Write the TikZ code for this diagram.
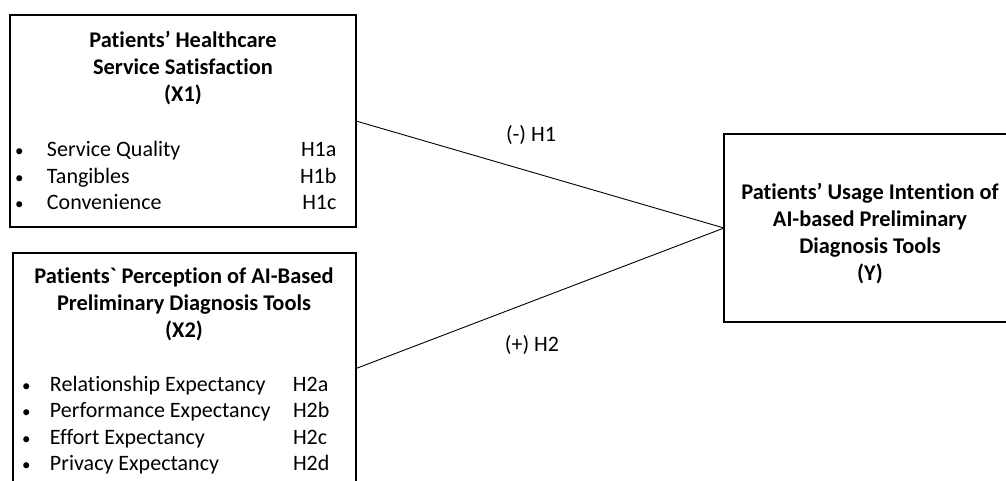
\documentclass[tikz,border=0pt]{standalone}
\usepackage{fontspec}
\setmainfont{Carlito}[Ligatures={TeXOff,NoCommon}]
\usepackage{array}

\newcommand{\itemdot}{{\fontsize{17}{17}\selectfont •}}

\begin{document}
\begin{tikzpicture}[x=1pt,y=-1pt]
    \tikzstyle{every node}=[inner sep=0pt, outer sep=0pt, font=\fontsize{22}{26.5}\selectfont]
    \tikzstyle{construct}=[draw, rectangle, line width=1.8pt]
    \tikzstyle{heading}=[align=center, font=\fontsize{22.4}{27}\selectfont\bfseries]
    \tikzstyle{link}=[line width=0.9pt]
    \useasboundingbox (0,0) rectangle (1006,480);
    \clip (0,0) rectangle (1006,480);
    % constructs
    \node[construct, minimum width=346pt, minimum height=212pt] (x1) at (183,121) {};
    \node[construct, minimum width=343pt, minimum height=231pt] (x2) at (184.5,368.5) {};
    \node[construct, minimum width=320pt, minimum height=188pt] (y) at (884,228) {};
    \node[heading] (x1title) at (183,68) {Patients’ Healthcare\\Service Satisfaction\\(X1)};
    \node[anchor=west] (x1items) at (15,178) {\begin{tabular}{@{}p{32pt}@{}p{253pt}@{}r@{}}
      \itemdot & Service Quality & H1a\\
      \itemdot & Tangibles & H1b\\
      \itemdot & Convenience & H1c
    \end{tabular}};
    \node[heading] (x2title) at (184,304.5) {Patients` Perception of AI-Based\\Preliminary Diagnosis Tools\\(X2)};
    \node[anchor=west] (x2items) at (22,425.7) {\begin{tabular}{@{}p{28pt}@{}p{243pt}@{}l@{}}
      \itemdot & Relationship Expectancy & H2a\\
      \itemdot & Performance Expectancy & H2b\\
      \itemdot & Effort Expectancy & H2c\\
      \itemdot & Privacy Expectancy & H2d
    \end{tabular}};
    \node[heading] (ytitle) at (870,234) {Patients’ Usage Intention of\\AI-based Preliminary\\Diagnosis Tools\\(Y)};
    % hypotheses
    \draw[link] (x1.east) -- (y.west);
    \draw[link] (x2.east) -- (y.west);
    \node (h1) at (531,135) {(-) H1};
    \node (h2) at (532,345) {(+) H2};
\end{tikzpicture}
\end{document}
